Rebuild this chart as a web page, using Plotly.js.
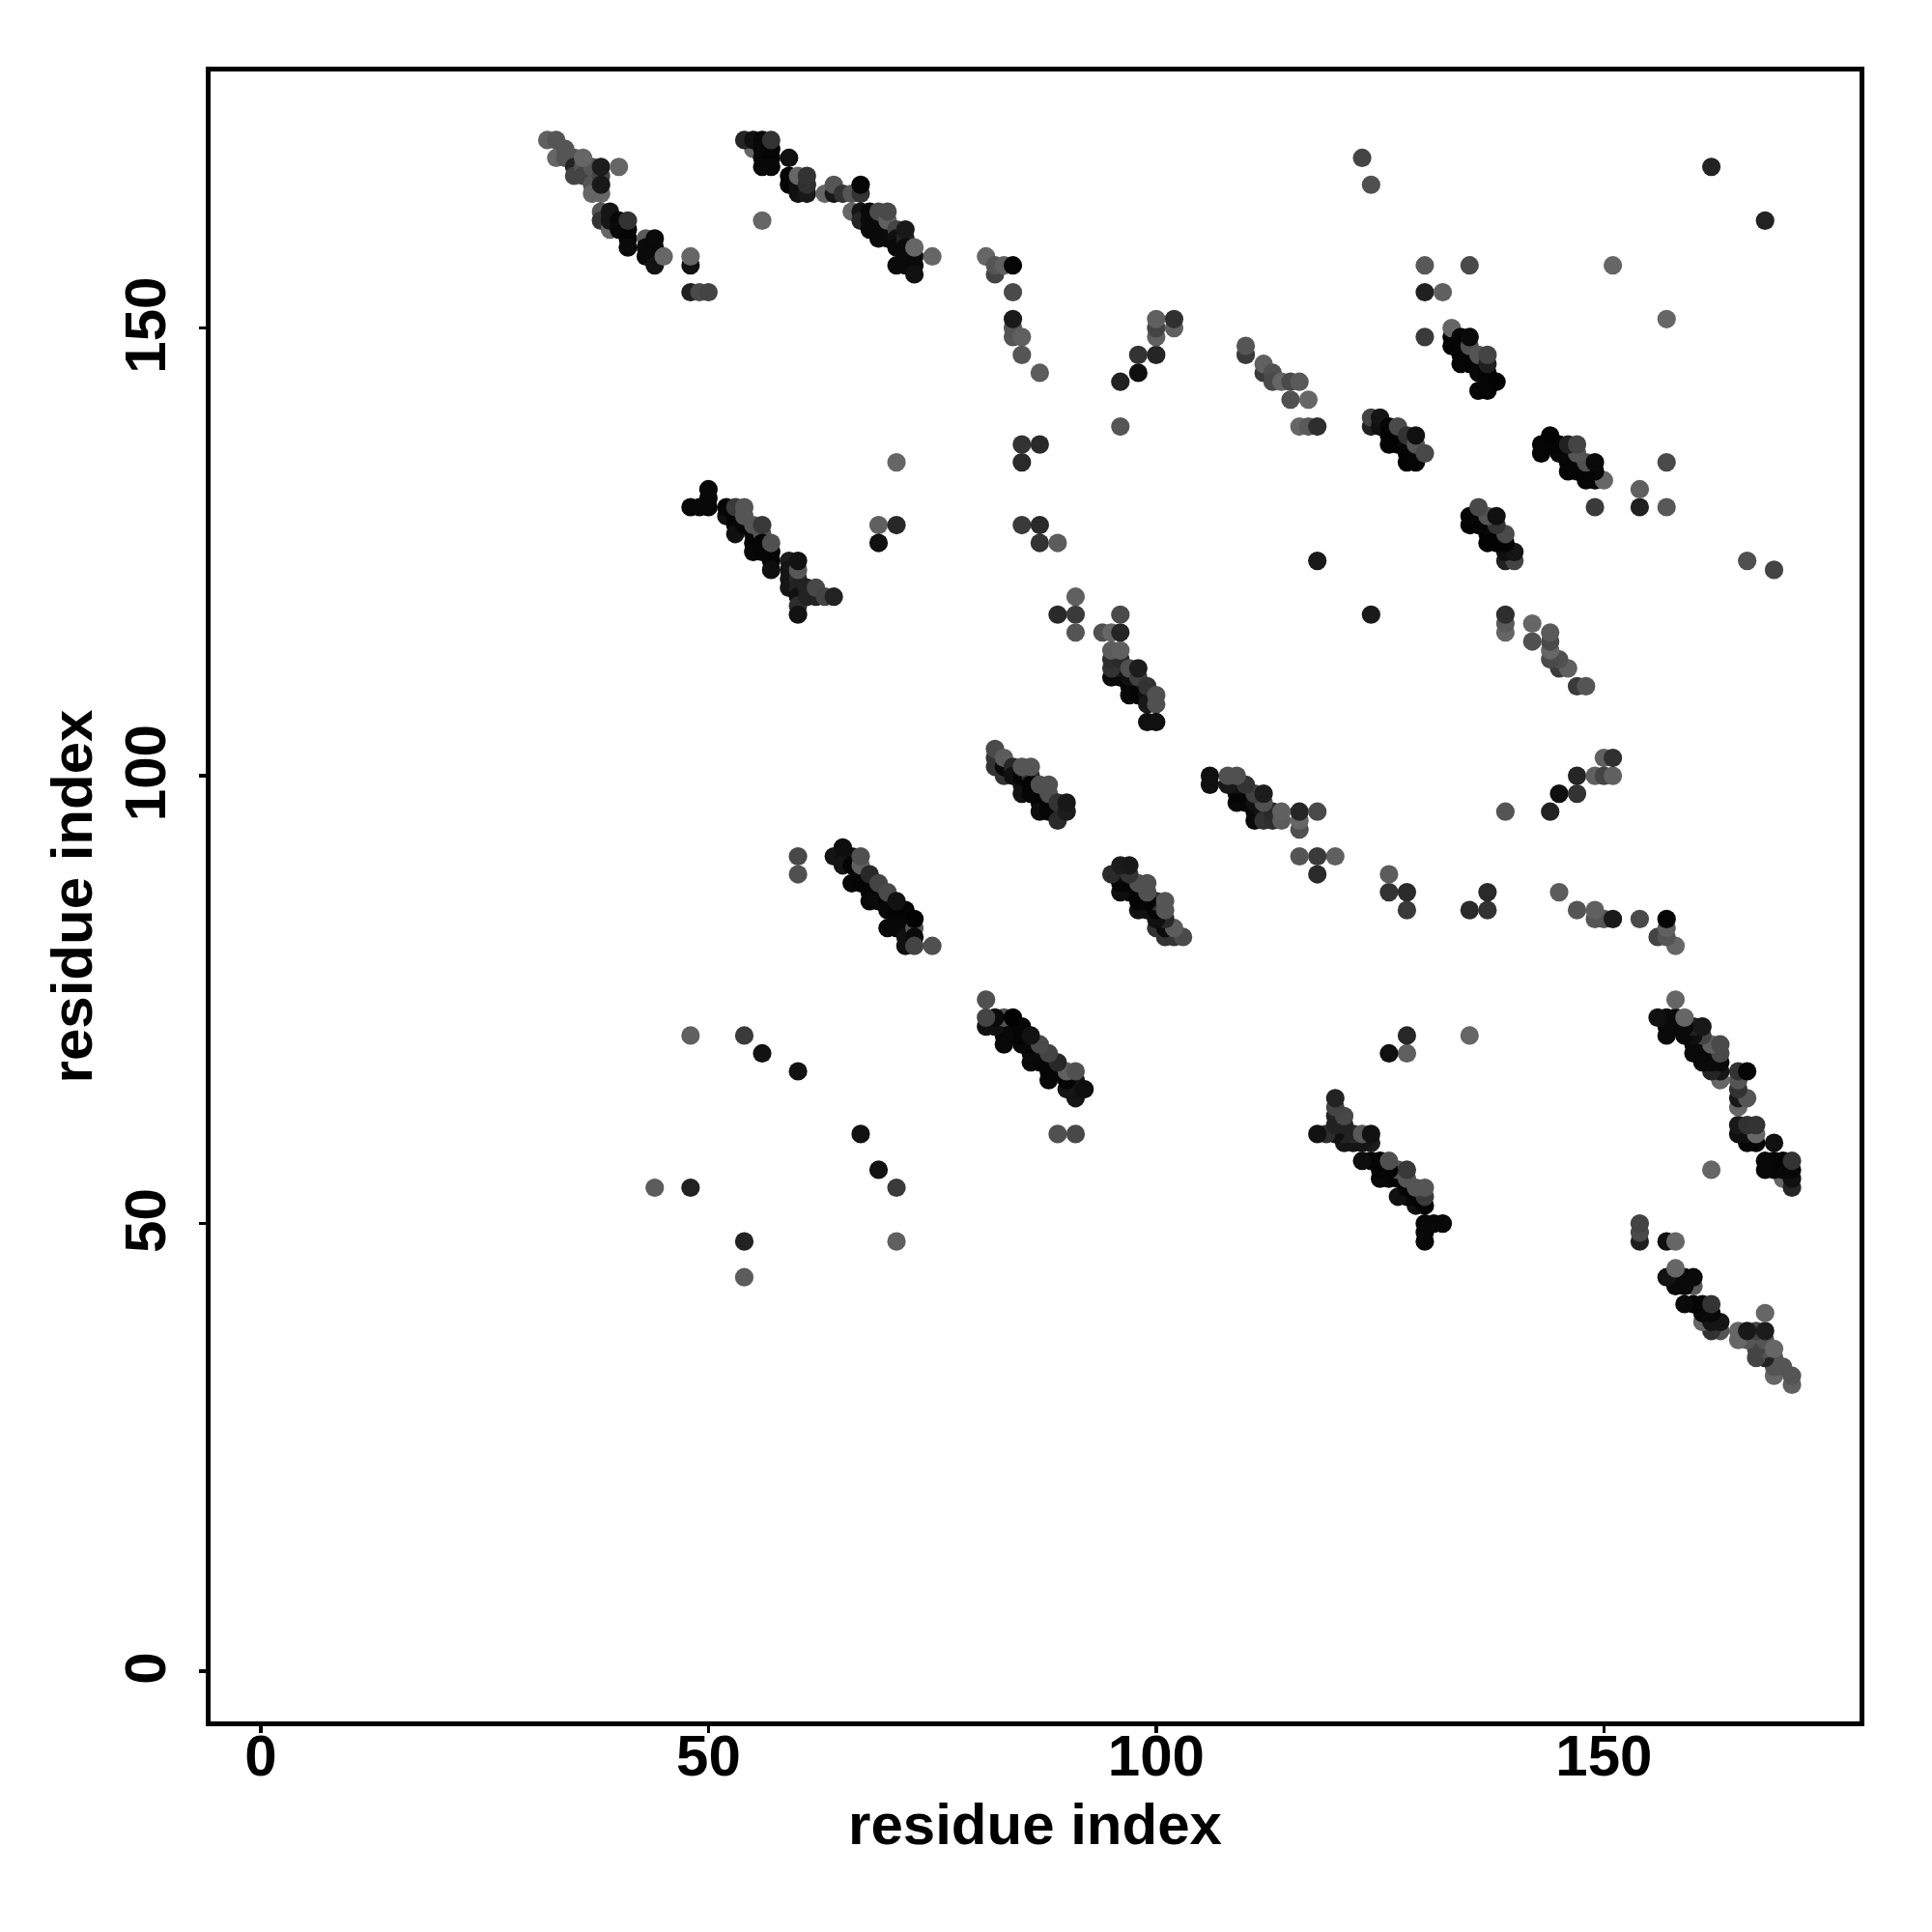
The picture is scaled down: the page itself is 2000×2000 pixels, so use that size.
<!DOCTYPE html>
<html><head><meta charset="utf-8">
<script src="https://cdn.plot.ly/plotly-3.0.1.min.js"></script>
<style>html,body{margin:0;padding:0;background:#fff}</style></head>
<body><div id="plot" style="width:2000px;height:2000px"></div>
<script>
// Residue contacts; the map is symmetric, so only i<j is listed.
// "level" is the grey level of the dot (0 = black, 102 = lightest used).
const aI=[33,34,35,32,33,34,35,35,36,36,37,37,37,37,38,36,38,38,38,40,38,38,39,39,39,40,40,41,41,41,41,43,43,43,44,44,44,44,45,48,48,48,49,50];
const aJ=[169,169,169,171,171,170,168,167,168,167,167,168,166,165,165,169,167,166,168,168,163,162,161,163,162,162,161,161,160,159,162,160,159,158,159,158,157,160,158,157,158,154,154,154];
const aL=[102,85,85,96,85,85,34,68,85,68,68,85,85,102,102,102,68,24,28,102,85,51,102,21,21,8,10,8,5,10,51,90,10,10,10,10,18,10,102,16,102,32,74,68];

const bI=[55,54,55,56,56,57,56,57,56,57,57,59,56,59,59,60,60,61,60,61,61,63,64,64,65,66,67,67,66,67,67,68,68,68,69,69,69,70,70,69,70,70,71,71,71,71,72,72,72,72,73,73,73,72,73,75];
const bJ=[170,171,171,171,170,170,169,169,168,168,171,169,162,167,166,166,165,165,167,166,167,165,165,166,165,165,165,166,163,163,162,163,162,161,162,161,160,160,161,163,162,163,161,160,159,157,160,159,158,157,157,158,156,161,159,158];
const bL=[102,37,16,8,8,5,8,5,8,8,51,16,102,5,5,16,16,24,102,48,51,102,24,85,51,85,51,5,102,21,37,10,10,10,10,10,10,10,10,74,96,74,68,16,10,10,34,10,10,10,10,10,16,24,102,102];

const cI=[81,82,82,83,84,84,84,84,84,85,85,87,85,87,85];
const cJ=[158,156,157,157,157,154,149,150,151,149,147,145,137,137,135];
const cL=[102,68,85,96,5,74,85,85,26,96,85,92,51,42,42];

const dI=[96,98,98,100,100,100,100,102,102,96];
const dJ=[144,145,147,147,149,150,151,150,151,139];
const dL=[34,15,51,37,96,68,96,96,48,85];

const eI=[110,110,112,112,113,113,114,115,116,115,117,116,117,118];
const eJ=[147,148,145,146,145,144,144,144,144,142,142,139,139,139];
const eL=[58,85,58,96,80,74,102,74,90,80,102,102,90,46];

const fI=[123,124,130,135,151,130,132,130,162];
const fJ=[169,166,157,157,157,154,154,149,168];
const fL=[68,80,88,74,102,32,96,58,34];

const gI=[133,133,133,134,134,134,134,135,135,135,135,136,136,136,136,137,137,137,137,137,138];
const gJ=[149,148,150,149,148,147,146,147,146,148,149,146,145,143,147,145,144,143,146,147,144];
const gL=[5,5,102,8,5,5,5,5,5,80,10,5,8,5,85,5,5,5,32,68,3];

const hI=[124,124,125,125,126,126,126,127,127,128,128,128,129,129,127,128,129,129,130];
const hJ=[139,140,139,140,139,138,137,138,137,137,136,135,136,135,139,138,137,138,136];
const hL=[32,68,16,21,5,3,3,3,3,8,5,3,5,5,74,51,85,16,72];

const kI=[48,49,50,50,50,52,52,53,53,53,53,54,54,54,55,55,55,55,56,56,56,56,57,57,57,57,59,59,59,59,60,60,60,60,60,60,60,61,61,62,62,63,64];
const kJ=[130,130,130,131,132,129,130,129,128,127,130,128,129,130,127,126,125,128,127,128,126,125,125,124,123,126,124,123,122,121,122,121,120,119,118,123,124,120,121,120,121,120,120];
const kL=[8,8,8,8,8,16,5,5,5,16,58,5,85,85,5,5,8,85,85,56,5,5,5,5,14,80,28,21,21,21,40,34,16,46,18,88,18,34,34,34,72,68,34];

const lI=[69,71,69,71,85,87,87,89,91,89,91,91];
const lJ=[128,128,126,135,128,128,126,126,120,118,118,116];
const lL=[96,40,16,102,58,42,51,92,96,42,58,85];

const mI=[94,95,96,96,95,96,96,95,95,96,95,96,97,97,98,98,97,97,98,98,99,99,99,100,100,99,100,118];
const mJ=[116,116,116,118,111,111,112,112,113,113,114,114,110,109,110,109,111,112,111,112,109,108,110,109,108,106,106,124];
const mL=[80,102,37,74,10,10,21,51,46,42,92,96,5,8,5,5,16,80,64,28,16,24,51,80,80,16,16,26];

const oI=[64,65,66,65,66,66,67,67,68,68,69,68,69,70,70,71,72,71,72,70,71,72,65,67,67,68,69,70,71,72,72,73,73,73,73,75];
const oJ=[91,91,91,90,90,88,89,88,88,87,87,86,86,86,85,85,85,84,84,83,83,83,92,90,91,89,88,87,86,82,81,83,82,81,84,81];
const oL=[21,18,18,21,5,8,8,5,5,5,5,8,10,5,8,5,5,5,5,8,8,8,14,96,80,40,68,74,18,16,16,85,10,68,2,80];

const pI=[82,82,82,83,83,83,84,84,85,85,85,86,86,86,85,86,87,87,87,88,88,89,87,88,88,89,89,90,90];
const pJ=[101,102,103,100,101,102,101,100,99,98,100,100,99,98,101,101,98,97,96,97,96,96,99,99,98,95,97,96,97];
const pL=[51,51,74,51,10,92,40,16,16,18,5,51,5,5,85,85,5,5,14,5,5,8,80,80,80,42,51,28,24];

const sI=[48,54,56,60,44,48,60,60];
const sJ=[71,71,69,67,54,54,89,91];
const sL=[96,58,18,18,92,34,80,72];

const tickValues=[0,50,100,150];
const axisLabel="residue index";

const upperI=[].concat(aI,bI,cI,dI,eI,fI,gI,hI,kI,lI,mI,oI,pI,sI);
const upperJ=[].concat(aJ,bJ,cJ,dJ,eJ,fJ,gJ,hJ,kJ,lJ,mJ,oJ,pJ,sJ);
const upperL=[].concat(aL,bL,cL,dL,eL,fL,gL,hL,kL,lL,mL,oL,pL,sL);

const font={family:'"Liberation Sans",Arial,sans-serif',size:60,color:'#000',weight:700};
const axisBase={tickmode:'array',tickvals:tickValues,ticktext:tickValues.map(String),
  showline:true,mirror:true,linecolor:'#000',linewidth:5.3,
  ticks:'outside',ticklen:7,tickwidth:3.3,tickcolor:'#000',
  showgrid:false,zeroline:false,tickfont:font,automargin:false};

Plotly.newPlot('plot',[{
  type:'scatter',mode:'markers',
  x:upperI.concat(upperJ),y:upperJ.concat(upperI),
  marker:{size:19.2,line:{width:0},color:upperL.concat(upperL),cmin:0,cmax:102,
    colorscale:[[0,'#000000'],[1,'#666666']],showscale:false},
  hoverinfo:'x+y'
}],{
  width:2000,height:2000,paper_bgcolor:'#fff',plot_bgcolor:'#fff',showlegend:false,
  margin:{l:218,r:75,t:74,b:218,pad:0},
  xaxis:Object.assign({},axisBase,{range:[-5.6,178.55],ticklabelstandoff:-28,title:{text:axisLabel,font:font,standoff:18}}),
  yaxis:Object.assign({},axisBase,{range:[-5.6,178.65],tickangle:-90,ticklabelstandoff:11,ticklabelshift:6,title:{text:axisLabel,font:font,standoff:3}})
},{displayModeBar:false,staticPlot:true});
</script></body></html>
